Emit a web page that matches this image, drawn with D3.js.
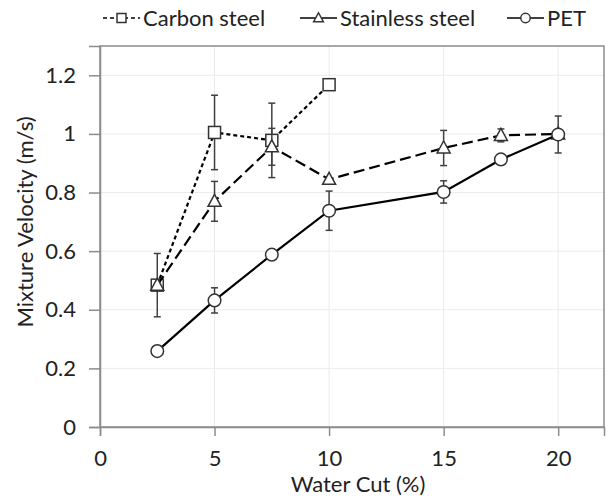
<!DOCTYPE html>
<html>
<head>
<meta charset="utf-8">
<script src="https://cdn.jsdelivr.net/npm/d3@7"></script>
<style>
  body { margin: 0; background: #fff; }
  text { font-family: Lato, "Open Sans", sans-serif; fill: #222; }
</style>
</head>
<body>
<script>
// water cut (%) and velocities per series
const carbonX = [2.5, 5, 7.5, 10];
const carbonY = [0.484, 1.005, 0.978, 1.168];
const carbonErr = [0.108, 0.127, 0.127, 0.012];

const stainlessX = [2.5, 5, 7.5, 10, 15, 17.5, 20];
const stainlessY = [0.484, 0.770, 0.956, 0.845, 0.952, 0.995, 1.0];
const stainlessErr = [0.0, 0.068, 0.063, 0.0, 0.06, 0.022, 0.0];

const petX = [2.5, 5, 7.5, 10, 15, 17.5, 20];
const petY = [0.259, 0.432, 0.588, 0.738, 0.802, 0.913, 0.998];
const petErr = [0.01, 0.043, 0.008, 0.067, 0.038, 0.01, 0.063];

const xTicks = [0, 5, 10, 15, 20];
const yTicks = [0, 0.2, 0.4, 0.6, 0.8, 1.0, 1.2];

const width = 608, height = 500;
const margin = {top: 46, right: 4, bottom: 73, left: 100};

const svg = d3.select("body").append("svg")
    .attr("width", width)
    .attr("height", height);

const x = d3.scaleLinear().domain([0, 22]).range([margin.left, width - margin.right]);
const y = d3.scaleLinear().domain([0, 1.3]).range([height - margin.bottom, margin.top]);

// grid
svg.append("g").selectAll("line.gy").data(yTicks.filter(d => d > 0)).join("line")
    .attr("x1", x(0)).attr("x2", x(22))
    .attr("y1", d => y(d)).attr("y2", d => y(d))
    .attr("stroke", "#ebebeb").attr("stroke-width", 1);
svg.append("g").selectAll("line.gx").data(xTicks.filter(d => d > 0)).join("line")
    .attr("y1", y(0)).attr("y2", y(1.3))
    .attr("x1", d => x(d)).attr("x2", d => x(d))
    .attr("stroke", "#ebebeb").attr("stroke-width", 1);

// frame
svg.append("rect")
    .attr("x", x(0)).attr("y", y(1.3))
    .attr("width", x(22) - x(0)).attr("height", y(0) - y(1.3))
    .attr("fill", "none").attr("stroke", "#8c8c8c").attr("stroke-width", 1.5);

// axes
const xAxis = svg.append("g").attr("transform", `translate(0,${y(0)})`)
    .call(d3.axisBottom(x).tickValues(xTicks).tickSize(9).tickPadding(14).tickFormat(d3.format("d")));
const yAxis = svg.append("g").attr("transform", `translate(${x(0)},0)`)
    .call(d3.axisLeft(y).tickValues(yTicks).tickSize(11).tickPadding(13).tickFormat(d => d === 0 ? "0" : d3.format("~g")(d)));
[xAxis, yAxis].forEach(g => {
  g.select(".domain").attr("stroke", "#8c8c8c").attr("stroke-width", 1.5);
  g.selectAll(".tick line").attr("stroke", "#8c8c8c").attr("stroke-width", 1.5);
  g.selectAll(".tick text").attr("font-size", 22).attr("font-family", "Lato").attr("fill", "#222");
});

// axis titles
svg.append("text")
    .attr("x", 358).attr("y", 492)
    .attr("text-anchor", "middle").attr("font-size", 22)
    .text("Water Cut (%)");
svg.append("text")
    .attr("transform", "translate(33,222) rotate(-90)")
    .attr("text-anchor", "middle").attr("font-size", 22)
    .text("Mixture Velocity (m/s)");

const series = [
  {name: "Carbon steel", xs: carbonX, ys: carbonY, err: carbonErr, dash: "4,3", marker: "square"},
  {name: "Stainless steel", xs: stainlessX, ys: stainlessY, err: stainlessErr, dash: "11,5", marker: "triangle"},
  {name: "PET", xs: petX, ys: petY, err: petErr, dash: null, marker: "circle"}
];

const line = d3.line().x(d => x(d[0])).y(d => y(d[1]));

function drawMarker(g, type, cx, cy, k) {
  k = k || 1;
  if (type === "square") {
    const h = 6 * k;
    g.append("rect").attr("x", cx - h).attr("y", cy - h).attr("width", 2 * h).attr("height", 2 * h)
      .attr("fill", "#fff").attr("stroke", "#333").attr("stroke-width", 1.5);
  } else if (type === "triangle") {
    const w = 6.5 * k, t = 7 * k, b = 5 * k;
    g.append("path").attr("d", `M${cx},${cy - t}L${cx + w},${cy + b}L${cx - w},${cy + b}Z`)
      .attr("fill", "#fff").attr("stroke", "#333").attr("stroke-width", 1.5);
  } else {
    g.append("circle").attr("cx", cx).attr("cy", cy).attr("r", 6.3 * k)
      .attr("fill", "#fff").attr("stroke", "#333").attr("stroke-width", 1.5);
  }
}

series.forEach(s => {
  const g = svg.append("g");
  const pts = s.xs.map((v, i) => [v, s.ys[i], s.err[i]]);
  g.append("path").datum(pts).attr("d", line)
    .attr("fill", "none").attr("stroke", "#000").attr("stroke-width", 2.2)
    .attr("stroke-dasharray", s.dash);
  pts.filter(p => p[2] > 0).forEach(p => {
    const cx = x(p[0]), y1 = y(p[1] + p[2]), y2 = y(p[1] - p[2]);
    g.append("line").attr("x1", cx).attr("x2", cx).attr("y1", y1).attr("y2", y2)
      .attr("stroke", "#404040").attr("stroke-width", 1.5);
    [y1, y2].forEach(yy => g.append("line").attr("x1", cx - 3.5).attr("x2", cx + 3.5)
      .attr("y1", yy).attr("y2", yy).attr("stroke", "#404040").attr("stroke-width", 1.5));
  });
  pts.forEach(p => drawMarker(g, s.marker, x(p[0]), y(p[1])));
});

// legend
const legendX = [103, 300, 507];
const legend = svg.append("g");
series.forEach((s, i) => {
  const lx = legendX[i], ly = 18;
  legend.append("line").attr("x1", lx).attr("x2", lx + 37).attr("y1", ly).attr("y2", ly)
    .attr("stroke", "#000").attr("stroke-width", 1.5).attr("stroke-dasharray", i === 0 ? "4,3" : null);
  drawMarker(legend.append("g"), s.marker, lx + 18.5, ly, 0.75);
  legend.append("text").attr("x", lx + 40).attr("y", ly + 8)
    .attr("font-size", 22).text(s.name);
});
</script>
</body>
</html>
